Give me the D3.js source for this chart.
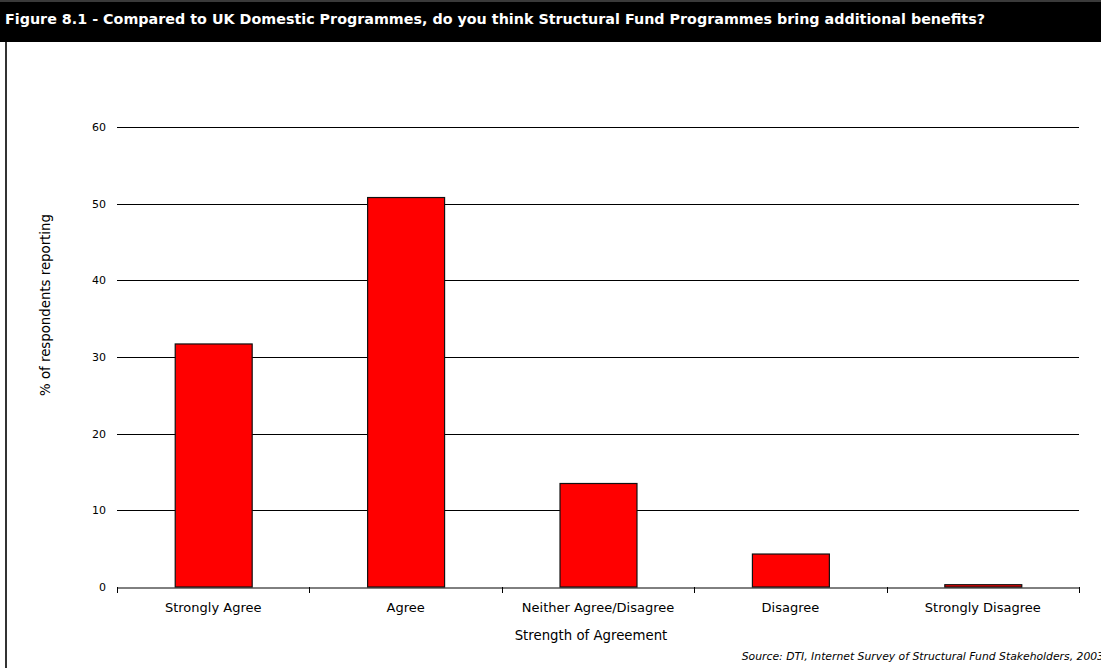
<!DOCTYPE html>
<html>
<head>
<meta charset="utf-8">
<script src="https://cdn.jsdelivr.net/npm/d3@7"></script>
<style>
  html, body { margin: 0; padding: 0; background: #fff; }
  svg { display: block; }
  text { font-family: "DejaVu Sans", Verdana, sans-serif; fill: #000; }
</style>
</head>
<body>
<svg id="chart" width="1101" height="668"></svg>
<script>
// Survey responses: share of respondents by strength of agreement
const categories = ["Strongly Agree", "Agree", "Neither Agree/Disagree", "Disagree", "Strongly Disagree"];
const values = [31.7, 50.8, 13.5, 4.3, 0.3];
const yTicks = [0, 10, 20, 30, 40, 50, 60];

const titleText = "Figure 8.1 - Compared to UK Domestic Programmes, do you think Structural Fund Programmes bring additional benefits?";
const xTitle = "Strength of Agreement";
const yTitle = "% of respondents reporting";
const sourceText = "Source: DTI, Internet Survey of Structural Fund Stakeholders, 2003";

const W = 1101, H = 668;
const plot = { left: 117, right: 1079, top: 127, bottom: 587 };

const svg = d3.select("#chart");

// Title banner
svg.append("rect").attr("x", 0).attr("y", 0).attr("width", W).attr("height", 42).attr("fill", "#000");
svg.append("rect").attr("x", 0).attr("y", 0).attr("width", W).attr("height", 2).attr("fill", "#3a3a3a");
svg.append("text")
  .attr("x", 5).attr("y", 24)
  .attr("textLength", 980).attr("lengthAdjust", "spacingAndGlyphs")
  .style("font-weight", "bold").style("font-size", "13.5px").style("fill", "#fff")
  .text(titleText);

// Frame line on the left
svg.append("line").attr("x1", 6).attr("x2", 6).attr("y1", 42).attr("y2", H)
  .attr("stroke", "#333").attr("stroke-width", 2);

const x = d3.scaleBand().domain(categories).range([plot.left, plot.right]).padding(0);
const y = d3.scaleLinear().domain([0, 60]).range([plot.bottom, plot.top]);

// Horizontal gridlines
svg.append("g").selectAll("line").data(yTicks.filter(d => d > 0)).join("line")
  .attr("x1", plot.left).attr("x2", plot.right)
  .attr("y1", d => Math.round(y(d)) + 0.5).attr("y2", d => Math.round(y(d)) + 0.5)
  .attr("stroke", "#000").attr("stroke-width", 1);

// Y tick labels
svg.append("g").selectAll("text").data(yTicks).join("text")
  .attr("x", 106).attr("y", d => y(d)).attr("dy", "0.35em")
  .attr("text-anchor", "end").style("font-size", "11px")
  .text(d => d);

// Bars, 40% of each category band, centred
const barFrac = 0.4;
svg.append("g").selectAll("rect").data(values).join("rect")
  .attr("x", (d, i) => x(categories[i]) + x.bandwidth() * (1 - barFrac) / 2 + 0.5)
  .attr("width", x.bandwidth() * barFrac)
  .attr("y", d => y(d))
  .attr("height", d => y(0) - y(d))
  .attr("fill", "#ff0000")
  .attr("stroke", "#111").attr("stroke-width", 1.2);

// X axis baseline with ticks at category boundaries
const xAxis = d3.axisBottom(x).tickSize(0).tickSizeOuter(0).tickPadding(15);
const gx = svg.append("g").attr("transform", `translate(0,${plot.bottom + 0.5})`).call(xAxis);
gx.select(".domain").attr("stroke", "#000");
gx.selectAll(".tick text").style("font-size", "13px").style("font-family", "'DejaVu Sans', Verdana, sans-serif").attr("fill", "#000");
const bounds = categories.map(c => x(c)).concat([plot.right]);
svg.append("g").selectAll("line").data(bounds).join("line")
  .attr("x1", d => Math.round(d) + 0.5).attr("x2", d => Math.round(d) + 0.5)
  .attr("y1", plot.bottom).attr("y2", plot.bottom + 6)
  .attr("stroke", "#000");

// Axis titles
svg.append("text").attr("x", 591).attr("y", 640)
  .attr("text-anchor", "middle").style("font-size", "13.3px").text(xTitle);
svg.append("text")
  .attr("transform", `translate(50,305) rotate(-90)`)
  .attr("text-anchor", "middle").style("font-size", "13.3px").text(yTitle);

// Source note
svg.append("text").attr("x", 1104).attr("y", 660)
  .attr("text-anchor", "end").style("font-size", "10.8px").style("font-style", "italic")
  .text(sourceText);
</script>
</body>
</html>
